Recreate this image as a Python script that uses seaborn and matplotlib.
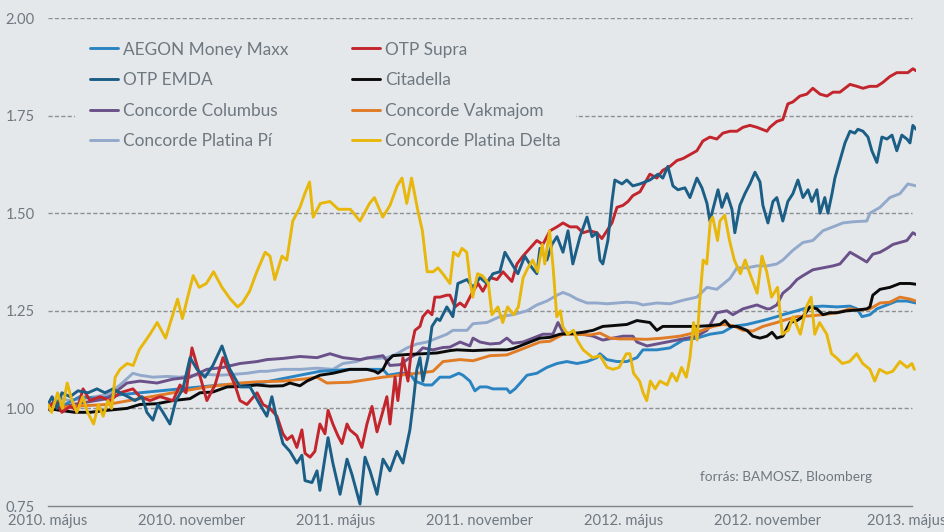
import matplotlib
matplotlib.use("Agg")
import matplotlib.pyplot as plt
import matplotlib.transforms as mtransforms
import seaborn as sns
import pandas as pd

# ---------------- data (x = months since 2010 May) ----------------
x_ticks = [0, 6, 12, 18, 24, 30, 36]
x_labels = ["2010. május", "2010. november", "2011. május", "2011. november",
            "2012. május", "2012. november", "2013. május"]
y_ticks = [0.75, 1.00, 1.25, 1.50, 1.75, 2.00]
y_labels = ["0.75", "1.00", "1.25", "1.50", "1.75", "2.00"]

aegon_m = [0, 0.29, 0.71, 1.33, 2.17, 3.0, 3.83, 4.67, 5.5, 6.33, 7.17, 8.42, 9.67, 10.5, 11.33,
           12.58, 13.96, 14.17, 14.67, 15.08, 15.29, 15.71, 16.0, 16.33, 16.75, 17.12, 17.29,
           17.58, 17.79, 18.0, 18.29, 18.54, 18.83, 19.12, 19.25, 19.46, 19.75, 19.96, 20.37,
           20.79, 21.21, 21.62, 22.04, 22.46, 22.87, 23.0, 23.29, 23.71, 24.12, 24.54, 24.79,
           25.37, 25.92, 26.46, 27.04, 27.58, 28.12, 28.54, 29.12, 29.79, 30.37, 30.62, 31.21,
           31.75, 32.29, 32.87, 33.42, 33.71, 33.92, 34.25, 34.54, 34.96, 35.37, 35.79, 36.17]
aegon_v = [1.00, 1.02, 1.01, 1.03, 1.025, 1.035, 1.04, 1.045, 1.05, 1.055, 1.06, 1.06, 1.075,
           1.085, 1.095, 1.10, 1.10, 1.085, 1.09, 1.09, 1.07, 1.06, 1.06, 1.08, 1.08, 1.09,
           1.085, 1.07, 1.045, 1.055, 1.055, 1.05, 1.05, 1.05, 1.04, 1.05, 1.07, 1.085, 1.09,
           1.105, 1.115, 1.12, 1.115, 1.12, 1.13, 1.14, 1.125, 1.12, 1.12, 1.13, 1.15, 1.15,
           1.155, 1.175, 1.18, 1.19, 1.195, 1.21, 1.215, 1.225, 1.235, 1.24, 1.25, 1.26, 1.262,
           1.26, 1.262, 1.255, 1.235, 1.24, 1.255, 1.265, 1.275, 1.275, 1.27]

emda_m = [0, 0.17, 0.37, 0.58, 0.92, 1.25, 1.67, 2.04, 2.37, 2.71, 3.0, 3.33, 3.62, 3.92, 4.12,
          4.37, 4.58, 4.79, 5.08, 5.33, 5.62, 5.92, 6.21, 6.54, 6.87, 7.25, 7.58, 8.0, 8.42,
          8.83, 9.12, 9.33, 9.54, 9.79, 10.08, 10.37, 10.58, 10.71, 11.0, 11.21, 11.33, 11.67,
          11.87, 12.17, 12.46, 12.67, 13.0, 13.21, 13.42, 13.71, 13.96, 14.25, 14.54, 14.79,
          15.08, 15.21, 15.37, 15.5, 15.62, 15.83, 16.0, 16.21, 16.33, 16.62, 16.87, 17.08,
          17.46, 17.71, 18.0, 18.29, 18.54, 18.83, 19.04, 19.33, 19.58, 19.87, 20.17, 20.37,
          20.5, 20.79, 21.0, 21.21, 21.46, 21.67, 21.87, 22.17, 22.46, 22.67, 22.87, 23.0,
          23.12, 23.33, 23.5, 23.62, 23.92, 24.12, 24.37, 24.67, 25.08, 25.42, 25.62, 25.83,
          26.04, 26.25, 26.54, 26.75, 27.04, 27.25, 27.46, 27.58, 27.79, 27.92, 28.08, 28.29,
          28.5, 28.62, 28.83, 29.04, 29.25, 29.46, 29.67, 29.79, 30.0, 30.21, 30.37, 30.62,
          30.83, 31.04, 31.25, 31.46, 31.67, 31.83, 32.04, 32.17, 32.37, 32.5, 32.67, 32.79,
          33.0, 33.21, 33.42, 33.62, 33.75, 33.96, 34.17, 34.33, 34.54, 34.75, 34.96, 35.17,
          35.37, 35.58, 35.79, 35.92, 36.04, 36.17]
emda_v = [1.01, 1.03, 1.00, 1.04, 1.03, 1.045, 1.04, 1.05, 1.04, 1.05, 1.04, 1.03, 1.02, 1.03,
          0.99, 0.97, 1.01, 0.99, 0.96, 1.02, 1.05, 1.13, 1.10, 1.08, 1.11, 1.16, 1.10, 1.055,
          1.055, 1.01, 0.98, 1.03, 0.97, 0.91, 0.89, 0.86, 0.88, 0.815, 0.81, 0.84, 0.79, 0.925,
          0.86, 0.78, 0.87, 0.83, 0.755, 0.875, 0.84, 0.78, 0.87, 0.84, 0.89, 0.86, 0.945,
          1.01, 1.10, 1.13, 1.07, 1.13, 1.21, 1.23, 1.225, 1.26, 1.235, 1.32, 1.33, 1.31,
          1.335, 1.32, 1.345, 1.35, 1.40, 1.37, 1.345, 1.39, 1.36, 1.345, 1.41, 1.38, 1.42,
          1.44, 1.40, 1.455, 1.37, 1.44, 1.49, 1.44, 1.45, 1.38, 1.37, 1.43, 1.53, 1.585,
          1.575, 1.585, 1.57, 1.575, 1.585, 1.60, 1.59, 1.62, 1.57, 1.56, 1.565, 1.54, 1.59,
          1.565, 1.525, 1.48, 1.53, 1.56, 1.515, 1.55, 1.51, 1.45, 1.52, 1.55, 1.575, 1.605,
          1.58, 1.52, 1.475, 1.53, 1.54, 1.48, 1.53, 1.55, 1.585, 1.54, 1.56, 1.53, 1.56, 1.50,
          1.54, 1.50, 1.55, 1.59, 1.635, 1.68, 1.71, 1.705, 1.715, 1.71, 1.695, 1.66, 1.63,
          1.695, 1.69, 1.70, 1.66, 1.70, 1.69, 1.68, 1.725, 1.715]

columbus_m = [0, 0.08, 1.04, 2.46, 3.29, 3.83, 4.54, 5.21, 5.92, 6.62, 7.29, 8.0, 8.71, 9.12,
              9.79, 10.5, 11.21, 11.75, 12.29, 13.0, 13.42, 13.96, 14.25, 14.67, 15.08, 15.37,
              15.62, 16.04, 16.46, 16.75, 17.17, 17.58, 17.71, 18.0, 18.42, 18.83, 19.12,
              19.37, 19.79, 20.21, 20.62, 21.04, 21.25, 21.46, 21.87, 22.29, 22.71, 23.12,
              23.54, 23.96, 24.37, 24.54, 24.96, 25.37, 25.79, 26.21, 26.62, 27.04, 27.46,
              27.87, 28.29, 28.54, 28.96, 29.54, 29.96, 30.08, 30.37, 30.62, 30.92, 31.21,
              31.46, 31.87, 32.29, 32.71, 33.0, 33.42, 33.71, 34.12, 34.37, 34.67, 34.96,
              35.21, 35.5, 35.79, 36.04, 36.17]
columbus_v = [1.00, 0.995, 1.01, 1.025, 1.065, 1.07, 1.065, 1.075, 1.08, 1.10, 1.105, 1.115,
              1.12, 1.125, 1.128, 1.133, 1.13, 1.14, 1.13, 1.125, 1.13, 1.135, 1.11, 1.112,
              1.13, 1.14, 1.155, 1.15, 1.156, 1.157, 1.17, 1.16, 1.18, 1.17, 1.165, 1.167,
              1.18, 1.167, 1.17, 1.18, 1.19, 1.19, 1.22, 1.195, 1.19, 1.19, 1.185, 1.175, 1.18,
              1.185, 1.185, 1.17, 1.16, 1.165, 1.17, 1.175, 1.18, 1.185, 1.20, 1.245, 1.25,
              1.24, 1.255, 1.265, 1.255, 1.255, 1.265, 1.295, 1.31, 1.33, 1.34, 1.355, 1.36,
              1.365, 1.37, 1.40, 1.39, 1.375, 1.395, 1.40, 1.41, 1.42, 1.425, 1.43, 1.45, 1.445]

pi_m = [0, 0.5, 0.92, 1.46, 2.46, 3.0, 3.54, 3.83, 4.37, 4.96, 5.5, 6.04, 6.62, 7.17, 7.71,
        8.29, 8.83, 9.12, 9.79, 10.5, 11.21, 11.87, 12.29, 12.87, 13.29, 13.71, 14.12, 14.54,
        14.96, 15.37, 15.79, 16.21, 16.62, 16.87, 17.46, 17.71, 18.29, 18.83, 19.37, 19.96,
        20.37, 20.79, 21.21, 21.46, 21.75, 22.04, 22.46, 22.87, 23.29, 23.71, 24.12, 24.54,
        24.79, 25.37, 25.92, 26.46, 27.04, 27.46, 27.87, 28.42, 28.71, 29.12, 29.54, 29.96,
        30.37, 30.62, 31.04, 31.46, 31.87, 32.29, 32.71, 33.12, 33.54, 34.12, 34.25, 34.67,
        35.08, 35.5, 35.83, 36.17]
pi_v = [1.00, 1.025, 1.02, 1.025, 1.035, 1.06, 1.09, 1.085, 1.08, 1.082, 1.08, 1.085, 1.087,
        1.085, 1.087, 1.09, 1.095, 1.095, 1.10, 1.10, 1.103, 1.10, 1.115, 1.12, 1.13, 1.128,
        1.13, 1.14, 1.155, 1.165, 1.17, 1.18, 1.19, 1.20, 1.20, 1.217, 1.22, 1.235, 1.24,
        1.25, 1.265, 1.275, 1.29, 1.297, 1.29, 1.28, 1.27, 1.27, 1.268, 1.27, 1.272, 1.27,
        1.265, 1.27, 1.268, 1.277, 1.285, 1.31, 1.305, 1.333, 1.36, 1.36, 1.365, 1.365, 1.37,
        1.38, 1.405, 1.425, 1.43, 1.455, 1.465, 1.475, 1.478, 1.48, 1.50, 1.515, 1.54, 1.55,
        1.575, 1.57]

supra_m = [0, 0.29, 0.58, 0.92, 1.21, 1.46, 1.75, 2.17, 2.58, 3.0, 3.54, 3.83, 4.25, 4.67,
           5.21, 5.5, 5.75, 6.0, 6.21, 6.62, 6.96, 7.29, 7.5, 7.79, 8.0, 8.29, 8.71, 8.96, 9.25,
           9.54, 9.79, 9.96, 10.17, 10.37, 10.58, 10.71, 10.92, 11.12, 11.33, 11.54, 11.67,
           11.87, 12.08, 12.25, 12.46, 12.58, 12.87, 13.08, 13.29, 13.5, 13.71, 13.92, 14.12,
           14.25, 14.46, 14.58, 14.79, 15.0, 15.17, 15.29, 15.5, 15.62, 15.83, 16.0, 16.12,
           16.33, 16.62, 16.75, 16.96, 17.17, 17.37, 17.58, 17.71, 17.92, 18.12, 18.42, 18.71,
           18.96, 19.33, 19.54, 19.79, 20.08, 20.37, 20.62, 20.92, 21.21, 21.46, 21.75, 22.04,
           22.29, 22.58, 22.87, 23.08, 23.29, 23.5, 23.71, 23.96, 24.17, 24.37, 24.67, 25.08,
           25.37, 25.62, 25.92, 26.21, 26.46, 26.75, 27.04, 27.29, 27.58, 27.87, 28.12, 28.42,
           28.71, 28.96, 29.25, 29.54, 29.75, 29.96, 30.08, 30.37, 30.62, 30.83, 31.04, 31.33,
           31.62, 31.87, 32.17, 32.46, 32.71, 33.0, 33.21, 33.42, 33.71, 33.96, 34.25, 34.54,
           34.79, 35.08, 35.37, 35.62, 35.83, 36.04, 36.17]
supra_v = [1.00, 1.02, 0.99, 1.005, 0.995, 1.05, 1.02, 1.03, 1.02, 1.04, 1.05, 1.03, 1.02,
           1.03, 1.02, 1.06, 1.04, 1.155, 1.11, 1.02, 1.06, 1.13, 1.10, 1.06, 1.02, 1.01, 1.04,
           1.01, 1.00, 0.98, 0.935, 0.92, 0.93, 0.90, 0.945, 0.885, 0.875, 0.89, 0.96, 0.935,
           0.995, 0.96, 0.93, 0.91, 0.96, 0.945, 0.93, 0.90, 0.96, 1.005, 0.94, 0.985, 1.03,
           0.96, 1.08, 1.02, 1.13, 1.07, 1.165, 1.20, 1.21, 1.235, 1.25, 1.24, 1.285, 1.285,
           1.29, 1.29, 1.26, 1.27, 1.26, 1.285, 1.30, 1.32, 1.30, 1.335, 1.33, 1.35, 1.325,
           1.37, 1.39, 1.41, 1.43, 1.42, 1.455, 1.465, 1.475, 1.465, 1.465, 1.45, 1.455, 1.45,
           1.435, 1.455, 1.475, 1.515, 1.52, 1.53, 1.545, 1.555, 1.60, 1.59, 1.61, 1.62, 1.635,
           1.64, 1.65, 1.66, 1.685, 1.695, 1.69, 1.705, 1.71, 1.71, 1.72, 1.725, 1.72, 1.715,
           1.71, 1.72, 1.735, 1.74, 1.78, 1.785, 1.80, 1.805, 1.82, 1.805, 1.80, 1.81, 1.81,
           1.82, 1.83, 1.825, 1.82, 1.825, 1.825, 1.835, 1.85, 1.86, 1.86, 1.86, 1.87, 1.865]

citadella_m = [0, 0.5, 1.12, 1.75, 2.46, 3.29, 3.83, 4.54, 5.21, 5.92, 6.33, 6.87, 7.46, 8.0,
               8.71, 9.25, 9.79, 10.08, 10.5, 10.79, 11.33, 11.87, 12.58, 13.29, 13.62, 13.75,
               13.96, 14.12, 14.37, 14.96, 15.62, 16.21, 16.75, 17.04, 17.71, 18.42, 19.12,
               19.37, 19.67, 20.08, 20.5, 20.92, 21.33, 21.87, 22.29, 22.71, 23.12, 23.54,
               24.12, 24.54, 25.08, 25.37, 25.62, 26.04, 26.46, 27.04, 27.58, 28.0, 28.21,
               28.42, 28.71, 29.12, 29.37, 29.67, 29.96, 30.17, 30.37, 30.62, 30.92, 31.21,
               31.46, 31.75, 32.04, 32.29, 32.58, 32.87, 33.29, 33.71, 34.12, 34.25, 34.37,
               34.67, 35.08, 35.5, 35.92, 36.17]
citadella_v = [1.00, 0.995, 0.99, 0.99, 0.995, 1.00, 1.01, 1.012, 1.02, 1.025, 1.04, 1.042,
               1.055, 1.056, 1.06, 1.057, 1.058, 1.065, 1.058, 1.07, 1.085, 1.09, 1.10, 1.10,
               1.095, 1.09, 1.10, 1.12, 1.135, 1.138, 1.14, 1.142, 1.148, 1.15, 1.148, 1.15,
               1.15, 1.153, 1.16, 1.17, 1.18, 1.182, 1.19, 1.192, 1.195, 1.20, 1.21, 1.212,
               1.215, 1.225, 1.22, 1.20, 1.21, 1.21, 1.21, 1.21, 1.212, 1.215, 1.225, 1.21,
               1.21, 1.20, 1.185, 1.18, 1.185, 1.195, 1.18, 1.185, 1.22, 1.225, 1.235, 1.26,
               1.255, 1.24, 1.245, 1.245, 1.25, 1.252, 1.255, 1.26, 1.29, 1.305, 1.31, 1.32,
               1.32, 1.318]

vakmajom_m = [0, 0.92, 2.46, 3.83, 5.21, 6.62, 8.0, 8.71, 9.79, 10.62, 11.21, 11.62, 12.58,
              13.96, 14.67, 15.37, 16.04, 16.46, 17.17, 17.71, 18.42, 19.12, 19.67, 20.08,
              20.5, 20.92, 21.46, 22.04, 22.58, 23.0, 23.42, 23.83, 24.25, 24.96, 25.62, 26.33,
              27.04, 27.71, 28.12, 28.54, 28.96, 29.37, 29.79, 30.37, 30.62, 31.21, 31.75,
              32.29, 32.87, 33.42, 33.83, 34.25, 34.67, 35.08, 35.5, 35.92, 36.17]
vakmajom_v = [1.00, 1.005, 1.01, 1.025, 1.04, 1.055, 1.065, 1.068, 1.07, 1.075, 1.08, 1.065,
              1.067, 1.08, 1.085, 1.09, 1.095, 1.12, 1.125, 1.122, 1.135, 1.137, 1.15, 1.16,
              1.17, 1.172, 1.19, 1.19, 1.188, 1.193, 1.18, 1.178, 1.178, 1.177, 1.18, 1.185,
              1.195, 1.21, 1.215, 1.212, 1.20, 1.198, 1.21, 1.22, 1.225, 1.235, 1.237, 1.24,
              1.245, 1.255, 1.252, 1.255, 1.27, 1.272, 1.285, 1.28, 1.275]

delta_m = [0, 0.15, 0.4, 0.6, 0.8, 1.0, 1.2, 1.45, 1.65, 1.9, 2.1, 2.3, 2.5, 2.65, 2.8, 3.0,
           3.3, 3.55, 3.8, 4.25, 4.55, 4.9, 5.1, 5.4, 5.6, 5.8, 6.05, 6.3, 6.6, 6.9, 7.25, 7.6,
           7.9, 8.1, 8.4, 8.7, 9.05, 9.25, 9.45, 9.75, 9.95, 10.2, 10.5, 10.7, 10.9, 11.05,
           11.35, 11.75, 12.1, 12.6, 13.0, 13.4, 13.6, 13.95, 14.25, 14.55, 14.75, 14.95, 15.15,
           15.4, 15.6, 15.8, 16.05, 16.25, 16.45, 16.75, 16.9, 17.1, 17.25, 17.45, 17.6, 17.7,
           17.9, 18.1, 18.35, 18.5, 18.75, 18.95, 19.15, 19.4, 19.6, 19.8, 20.0, 20.2, 20.4,
           20.6, 20.7, 20.9, 21.05, 21.2, 21.35, 21.45, 21.65, 21.9, 22.05, 22.3, 22.7, 23.0,
           23.3, 23.55, 23.8, 24.1, 24.25, 24.4, 24.65, 24.8, 24.95, 25.1, 25.3, 25.5, 25.8,
           26.0, 26.2, 26.4, 26.6, 26.75, 26.9, 27.05, 27.15, 27.3, 27.45, 27.6, 27.7, 27.9,
           28.0, 28.2, 28.4, 28.6, 28.85, 29.05, 29.25, 29.55, 29.75, 29.95, 30.15, 30.4, 30.6,
           30.85, 31.05, 31.35, 31.6, 31.8, 31.95, 32.15, 32.45, 32.65, 32.85, 33.1, 33.4,
           33.7, 33.95, 34.25, 34.45, 34.65, 34.95, 35.2, 35.5, 35.8, 36.0, 36.1]
delta_v = [1.01, 0.99, 1.04, 1.00, 1.065, 1.02, 0.99, 1.03, 0.99, 0.96, 1.01, 0.98, 1.02, 1.00,
           1.08, 1.10, 1.115, 1.11, 1.15, 1.19, 1.22, 1.18, 1.22, 1.28, 1.23, 1.28, 1.34, 1.31,
           1.32, 1.35, 1.31, 1.28, 1.26, 1.27, 1.30, 1.35, 1.40, 1.39, 1.33, 1.39, 1.38, 1.48,
           1.515, 1.55, 1.58, 1.49, 1.525, 1.53, 1.51, 1.51, 1.48, 1.525, 1.54, 1.49, 1.52,
           1.57, 1.59, 1.525, 1.59, 1.51, 1.455, 1.35, 1.35, 1.36, 1.345, 1.32, 1.40, 1.39,
           1.41, 1.40, 1.32, 1.285, 1.345, 1.34, 1.32, 1.24, 1.26, 1.22, 1.26, 1.24, 1.26,
           1.335, 1.36, 1.38, 1.35, 1.42, 1.37, 1.455, 1.36, 1.235, 1.25, 1.21, 1.19, 1.20,
           1.175, 1.15, 1.13, 1.135, 1.105, 1.10, 1.105, 1.14, 1.14, 1.09, 1.07, 1.04, 1.02,
           1.07, 1.05, 1.07, 1.06, 1.09, 1.07, 1.105, 1.08, 1.13, 1.22, 1.175, 1.27, 1.38,
           1.37, 1.48, 1.49, 1.43, 1.48, 1.495, 1.43, 1.38, 1.345, 1.38, 1.345, 1.295, 1.39,
           1.35, 1.285, 1.31, 1.19, 1.20, 1.235, 1.19, 1.26, 1.285, 1.19, 1.22, 1.19, 1.14,
           1.13, 1.115, 1.12, 1.14, 1.115, 1.10, 1.07, 1.10, 1.09, 1.095, 1.12, 1.105, 1.115,
           1.10]

names = ["AEGON Money Maxx", "OTP EMDA", "Concorde Columbus", "Concorde Platina Pí",
         "OTP Supra", "Citadella", "Concorde Vakmajom", "Concorde Platina Delta"]
source_text = "forrás: BAMOSZ, Bloomberg"

# ---------------- style ----------------
BG = "#e5e8eb"
TXT = "#6e7880"
colors = {
    "AEGON Money Maxx": "#2a84c2",
    "OTP EMDA": "#1b5e86",
    "Concorde Columbus": "#6a5189",
    "Concorde Platina Pí": "#93a9cb",
    "OTP Supra": "#c3252d",
    "Citadella": "#0a0a0a",
    "Concorde Vakmajom": "#e07b26",
    "Concorde Platina Delta": "#e8b70b",
}
series = {
    "AEGON Money Maxx": (aegon_m, aegon_v),
    "OTP EMDA": (emda_m, emda_v),
    "Concorde Columbus": (columbus_m, columbus_v),
    "Concorde Platina Pí": (pi_m, pi_v),
    "OTP Supra": (supra_m, supra_v),
    "Citadella": (citadella_m, citadella_v),
    "Concorde Vakmajom": (vakmajom_m, vakmajom_v),
    "Concorde Platina Delta": (delta_m, delta_v),
}
draw_order = ["Concorde Platina Pí", "AEGON Money Maxx", "Concorde Columbus",
              "Concorde Vakmajom", "Citadella", "OTP Supra", "OTP EMDA",
              "Concorde Platina Delta"]

sns.set_theme(style="white")
plt.rcParams["font.family"] = ["Lato", "DejaVu Sans"]

fig = plt.figure(figsize=(9.45, 5.32), dpi=100, facecolor=BG)
ax = fig.add_axes([48 / 945, 26 / 532, 868 / 945, 488 / 532])
ax.set_facecolor(BG)

frames = []
for n in names:
    m, v = series[n]
    frames.append(pd.DataFrame({"month": m, "value": v, "fund": n}))
df = pd.concat(frames, ignore_index=True)

handles = {}
for z, n in enumerate(draw_order):
    sub = df[df["fund"] == n]
    sns.lineplot(data=sub, x="month", y="value", ax=ax, color=colors[n], lw=2.1,
                 estimator=None, sort=False, label=n, zorder=3 + z)
for line in ax.get_lines():
    handles[line.get_label()] = line

# dashed gridlines at the y ticks above the baseline
ax.hlines(y_ticks[1:], x_ticks[0], x_ticks[-1], colors="#8d9194", lw=1.0,
          linestyles=(0, (3, 1.6)), zorder=1)

ax.set_xlim(0, 36.17)
ax.set_ylim(0.75, 2.0)
for s in ["top", "right", "left"]:
    ax.spines[s].set_visible(False)
ax.spines["bottom"].set_color("#7f8387")
ax.spines["bottom"].set_linewidth(1.0)
ax.spines["bottom"].set_bounds(x_ticks[0], x_ticks[-1])

ax.set_xticks(x_ticks)
ax.set_xticklabels(x_labels)
ax.set_yticks(y_ticks)
ax.set_yticklabels(y_labels)
ax.tick_params(axis="x", direction="out", length=3, width=1, color="#7f8387",
               labelsize=10.6, labelcolor=TXT, pad=3)
ax.tick_params(axis="y", length=0, labelsize=10.6, labelcolor=TXT, pad=9.5)
ax.set_xlabel("")
ax.set_ylabel("")
ax.grid(False)

# keep the last x label inside the picture
last = ax.get_xticklabels()[-1]
last.set_transform(last.get_transform() + mtransforms.ScaledTranslation(-5 / 100, 0, fig.dpi_scale_trans))

leg = ax.legend([handles[n] for n in names], names, ncol=2, loc="upper left",
                bbox_to_anchor=(75 / 945, 1 - 26 / 532), bbox_transform=fig.transFigure,
                frameon=True, facecolor=BG, edgecolor="none", framealpha=1, fancybox=False,
                fontsize=12.4, borderpad=0.9, borderaxespad=0, handlelength=1.6,
                handletextpad=0.3, columnspacing=3.7, labelspacing=0.85)
leg.set_zorder(20)
for t in leg.get_texts():
    t.set_color(TXT)

fig.text(786 / 945, 1 - 477 / 532, source_text, ha="center", va="center",
         fontsize=9.8, color=TXT)

fig.savefig("out.png", dpi=100, facecolor=BG)
